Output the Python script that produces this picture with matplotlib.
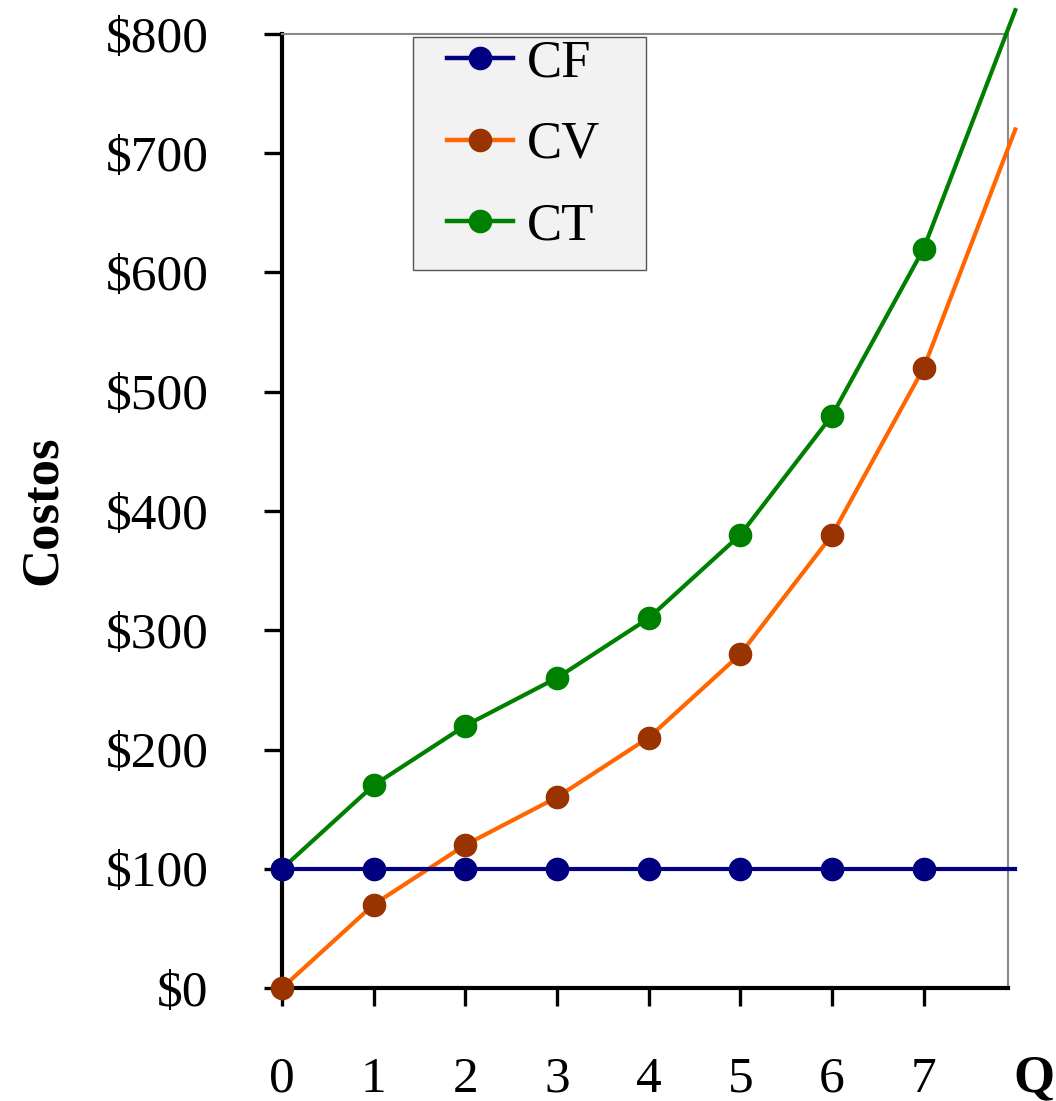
import matplotlib.pyplot as plt
import matplotlib.patches as mpatches
from matplotlib.lines import Line2D
from matplotlib import font_manager

# --- datos ---
q = [0, 1, 2, 3, 4, 5, 6, 7, 8]
cf = [100, 100, 100, 100, 100, 100, 100, 100, 100]
cv = [0, 70, 120, 160, 210, 280, 380, 520, 720]
ct = [100, 170, 220, 260, 310, 380, 480, 620, 820]
y_ticks = [0, 100, 200, 300, 400, 500, 600, 700, 800]
y_labels = ["$0", "$100", "$200", "$300", "$400", "$500", "$600", "$700", "$800"]
x_ticks = [0, 1, 2, 3, 4, 5, 6, 7]

# fuente tipo Times
fuente = "DejaVu Serif"
for nombre in ["Liberation Serif", "Times New Roman", "Nimbus Roman", "Tinos"]:
    try:
        font_manager.findfont(font_manager.FontProperties(family=nombre),
                              fallback_to_default=False)
        fuente = nombre
        break
    except Exception:
        pass
plt.rcParams["font.family"] = "serif"
plt.rcParams["font.serif"] = [fuente, "DejaVu Serif"]

W, H = 1056, 1101
fig = plt.figure(figsize=(W / 100, H / 100), dpi=100)
ax = fig.add_axes([282 / W, 1 - 988 / H, (1008 - 282) / W, (988 - 34) / H])

series = [("CF", cf, "#000080", "#000080", 6),
          ("CV", cv, "#ff6600", "#993300", 5),
          ("CT", ct, "#008000", "#008000", 4)]

marcas = list(range(8))
proxies = []
for nombre, valores, c_linea, c_marca, z in series:
    ax.plot(q, valores, color=c_linea, lw=3, marker="o", ms=16, mfc=c_marca,
            mec=c_marca, markevery=marcas, clip_on=False, zorder=z)
    proxies.append(Line2D([0], [0], color=c_linea, lw=3.2, marker="o", ms=16,
                          mfc=c_marca, mec=c_marca, label=nombre))

ax.set_xlim(0, 7.92)
ax.set_ylim(0, 800)
ax.set_xticks(x_ticks)
ax.set_yticks(y_ticks)
ax.set_yticklabels(y_labels)
ax.tick_params(axis="both", direction="out", length=13, width=2.4,
               labelsize=37, color="black")
ax.tick_params(axis="y", pad=40)
ax.tick_params(axis="x", pad=36)

ax.spines["left"].set_linewidth(3)
ax.spines["bottom"].set_linewidth(3)
ax.spines["top"].set_color("#888888")
ax.spines["right"].set_color("#888888")
ax.spines["top"].set_linewidth(1.5)
ax.spines["right"].set_linewidth(1.5)

# --- leyenda ---
caja = mpatches.Rectangle((413 / W, 1 - 270 / H), (646 - 413) / W, (270 - 37) / H,
                          transform=fig.transFigure, facecolor="#f2f2f2",
                          edgecolor="#555555", lw=1, zorder=7, clip_on=False)
ax.add_patch(caja)
leg = ax.legend(handles=proxies, loc="center left",
                bbox_to_anchor=(447 / W, 1 - 145 / H), bbox_transform=fig.transFigure,
                frameon=False, fontsize=38, handlelength=1.25, handletextpad=0.27,
                labelspacing=0.64, borderpad=0, borderaxespad=0, numpoints=1)
leg.set_zorder(8)

fig.text(43 / W, 1 - 510 / H, "Costos", rotation=90, ha="center", va="center",
         fontsize=38, fontweight="bold")
fig.text(1034 / W, 1 - 1078 / H, "Q", ha="center", va="center",
         fontsize=38, fontweight="bold")

fig.savefig("out.png", dpi=100)
